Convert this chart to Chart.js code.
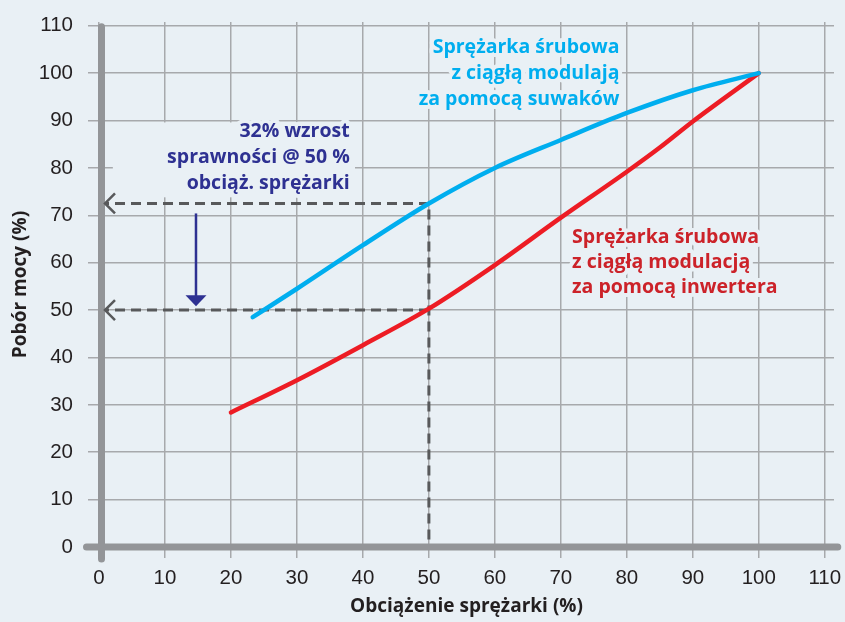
<!DOCTYPE html>
<html><head><meta charset="utf-8">
<script src="https://cdn.jsdelivr.net/npm/chart.js@4"></script>
<style>
html,body{margin:0;padding:0;background:#e9f0f5;}
#wrap{width:845px;height:622px;position:relative;}
</style>
</head><body>
<div id="wrap"><canvas id="c"></canvas></div>
<script>
// ---------- DATA ----------
const xTicks = [0, 10, 20, 30, 40, 50, 60, 70, 80, 90, 100, 110];
const yTicks = [0, 10, 20, 30, 40, 50, 60, 70, 80, 90, 100, 110];

// Sprężarka z modulacją suwakami (blue)
const slideLoad  = [23.3, 30, 40, 50, 60, 70, 80, 90, 100];
const slidePower = [48.5, 54.5, 63.7, 72.5, 80.0, 85.9, 91.6, 96.4, 100];

// Sprężarka z inwerterem (red)
const invLoad  = [20, 30, 40, 50, 60, 70, 80, 85, 90, 100];
const invPower = [28.4, 35.2, 42.6, 50.3, 59.5, 69.5, 79.2, 84.3, 89.8, 100];

// reference guides at 50 % load
const refLoad = 50;
const refSlide = 72.5;
const refInv = 50;

// arrow (load value, from power, to power)
const arrowLoad = 14.7;
const arrowFrom = 70.4;
const arrowTo = 50.8;

const slideLabel = ["Sprężarka śrubowa", "z ciągłą modulają", "za pomocą suwaków"];
const invLabel   = ["Sprężarka śrubowa", "z ciągłą modulacją", "za pomocą inwertera"];
const noteLabel  = ["32% wzrost", "sprawności @ 50 %", "obciąż. sprężarki"];
const xTitle = "Obciążenie sprężarki (%)";
const yTitle = "Pobór mocy (%)";

// ---------- STYLE / LAYOUT ----------
const BG = '#e9f0f5';
const GRID = '#a7a9ac';
const AXIS = '#939598';
const DASH = '#58595b';
const BLUE = '#00aeef';
const RED = '#ed1c24';
const RED_TXT = '#cc2229';
const NAVY = '#2e3192';
const TXT = '#231f20';
const SANS = '"Open Sans", "Noto Sans", sans-serif';
const TICKFONT = '"Liberation Sans", Arial, sans-serif';

const mc = document.createElement('canvas').getContext('2d');
function fit(text, target) {
  mc.font = 'bold 100px ' + SANS;
  return 100 * target / mc.measureText(text).width;
}
const noteSize = fit("Sprężarka śrubowa", 187);
const titleSize = fit(xTitle, 233);

const layoutText = {
  note:  {x: 38.0, y: [87.8, 82.3, 76.8], align: 'right', color: NAVY, lines: noteLabel},
  slide: {x: 78.9, y: [105.5, 100.0, 94.4], align: 'right', color: BLUE, lines: slideLabel},
  inv:   {x: 71.7, y: [65.4, 60.1, 54.7], align: 'left', color: RED_TXT, lines: invLabel}
};
const noteBox = {x1: 2.1, x2: 38.8, y1: 89.6, y2: 73.8};

const pts = (xs, ys) => xs.map((x, i) => ({x: x, y: ys[i]}));

const decor = {
  id: 'decor',
  beforeDraw(chart) {
    const c = chart.ctx;
    c.save();
    c.fillStyle = BG;
    c.fillRect(0, 0, chart.width, chart.height);
    c.restore();
  },
  beforeDatasetsDraw(chart) {
    const c = chart.ctx, xs = chart.scales.x, ys = chart.scales.y;
    c.save();
    c.fillStyle = BG;
    const bx1 = xs.getPixelForValue(noteBox.x1), bx2 = xs.getPixelForValue(noteBox.x2);
    const by1 = ys.getPixelForValue(noteBox.y1), by2 = ys.getPixelForValue(noteBox.y2);
    c.fillRect(bx1, by1, bx2 - bx1, by2 - by1);
    c.font = 'bold ' + noteSize + 'px ' + SANS;
    c.textBaseline = 'middle';
    c.lineJoin = 'round';
    for (const key of ['note', 'slide', 'inv']) {
      const t = layoutText[key];
      c.textAlign = t.align;
      const px = xs.getPixelForValue(t.x);
      t.lines.forEach((line, i) => {
        const py = ys.getPixelForValue(t.y[i]);
        c.strokeStyle = BG;
        c.lineWidth = 8;
        c.strokeText(line, px, py);
        c.fillStyle = t.color;
        c.fillText(line, px, py);
      });
    }
    c.restore();
  },
  afterDatasetsDraw(chart) {
    const c = chart.ctx, xs = chart.scales.x, ys = chart.scales.y;
    const x0 = xs.getPixelForValue(0), y0 = ys.getPixelForValue(0);
    const yTop = ys.getPixelForValue(110);
    const xEnd = xs.getPixelForValue(110);
    c.save();
    c.strokeStyle = AXIS;
    c.lineWidth = 7;
    c.lineCap = 'round';
    c.beginPath();
    c.moveTo(x0 - 12.5, y0);
    c.lineTo(xEnd + 13, y0);
    c.stroke();
    c.beginPath();
    c.moveTo(x0 + 2.5, yTop + 1);
    c.lineTo(x0 + 2.5, y0 + 12);
    c.stroke();
    c.strokeStyle = DASH;
    c.lineWidth = 2.5;
    c.lineCap = 'butt';
    c.lineJoin = 'miter';
    for (const v of [refSlide, refInv]) {
      const py = ys.getPixelForValue(v);
      c.beginPath();
      c.moveTo(x0 + 16, py - 10);
      c.lineTo(x0 + 6, py);
      c.lineTo(x0 + 16, py + 10);
      c.stroke();
    }
    const ax = xs.getPixelForValue(arrowLoad);
    const ay1 = ys.getPixelForValue(arrowFrom);
    const ay2 = ys.getPixelForValue(arrowTo);
    c.strokeStyle = NAVY;
    c.fillStyle = NAVY;
    c.lineWidth = 2.5;
    c.beginPath();
    c.moveTo(ax, ay1);
    c.lineTo(ax, ay2 - 8);
    c.stroke();
    c.beginPath();
    c.moveTo(ax - 10.5, ay2 - 11);
    c.lineTo(ax + 10.5, ay2 - 11);
    c.lineTo(ax, ay2);
    c.closePath();
    c.fill();
    c.restore();
  }
};

new Chart(document.getElementById('c'), {
  type: 'line',
  data: {
    datasets: [
      {
        data: pts(slideLoad, slidePower),
        borderColor: BLUE, borderWidth: 4.5, pointRadius: 0,
        cubicInterpolationMode: 'monotone', borderCapStyle: 'round', order: 1
      },
      {
        data: pts(invLoad, invPower),
        borderColor: RED, borderWidth: 4.5, pointRadius: 0,
        cubicInterpolationMode: 'monotone', borderCapStyle: 'round', order: 1
      },
      {
        data: [{x: 0, y: refSlide}, {x: refLoad, y: refSlide}, {x: refLoad, y: 0}],
        borderColor: DASH, borderWidth: 3, borderDash: [10, 6], pointRadius: 0,
        tension: 0, order: 2
      },
      {
        data: [{x: 0, y: refInv}, {x: refLoad, y: refInv}],
        borderColor: DASH, borderWidth: 3, borderDash: [10, 6], pointRadius: 0,
        tension: 0, order: 2
      }
    ]
  },
  options: {
    responsive: true,
    maintainAspectRatio: false,
    animation: false,
    events: [],
    layout: {padding: {left: 4, right: 0, top: 22, bottom: 0}},
    plugins: {legend: {display: false}, tooltip: {enabled: false}},
    scales: {
      x: {
        type: 'linear', min: 0, max: 111.4,
        afterBuildTicks: (s) => { s.ticks = xTicks.map(v => ({value: v})); },
        afterFit: (s) => { s.height = 75; s.paddingLeft = 0; s.paddingRight = 11; },
        ticks: {font: {family: TICKFONT, size: 20.5}, color: TXT, padding: 8, maxRotation: 0, autoSkip: false},
        grid: {color: GRID, lineWidth: 1.5, tickLength: 11},
        border: {display: false},
        title: {display: true, text: xTitle, color: TXT,
                font: {family: SANS, weight: 'bold', size: titleSize},
                padding: {top: 8, bottom: 4}}
      },
      y: {
        type: 'linear', min: 0, max: 110.8,
        afterBuildTicks: (s) => { s.ticks = yTicks.map(v => ({value: v})); },
        afterFit: (s) => { s.width = 95; s.paddingTop = 0; s.paddingBottom = 0; },
        ticks: {font: {family: TICKFONT, size: 20.5}, color: TXT, padding: 15, autoSkip: false},
        grid: {color: GRID, lineWidth: 1.5, tickLength: 11},
        border: {display: false},
        title: {display: true, text: yTitle, color: TXT,
                font: {family: SANS, weight: 'bold', size: titleSize},
                padding: {top: 5, bottom: 9}}
      }
    }
  },
  plugins: [decor]
});
</script>
</body></html>
